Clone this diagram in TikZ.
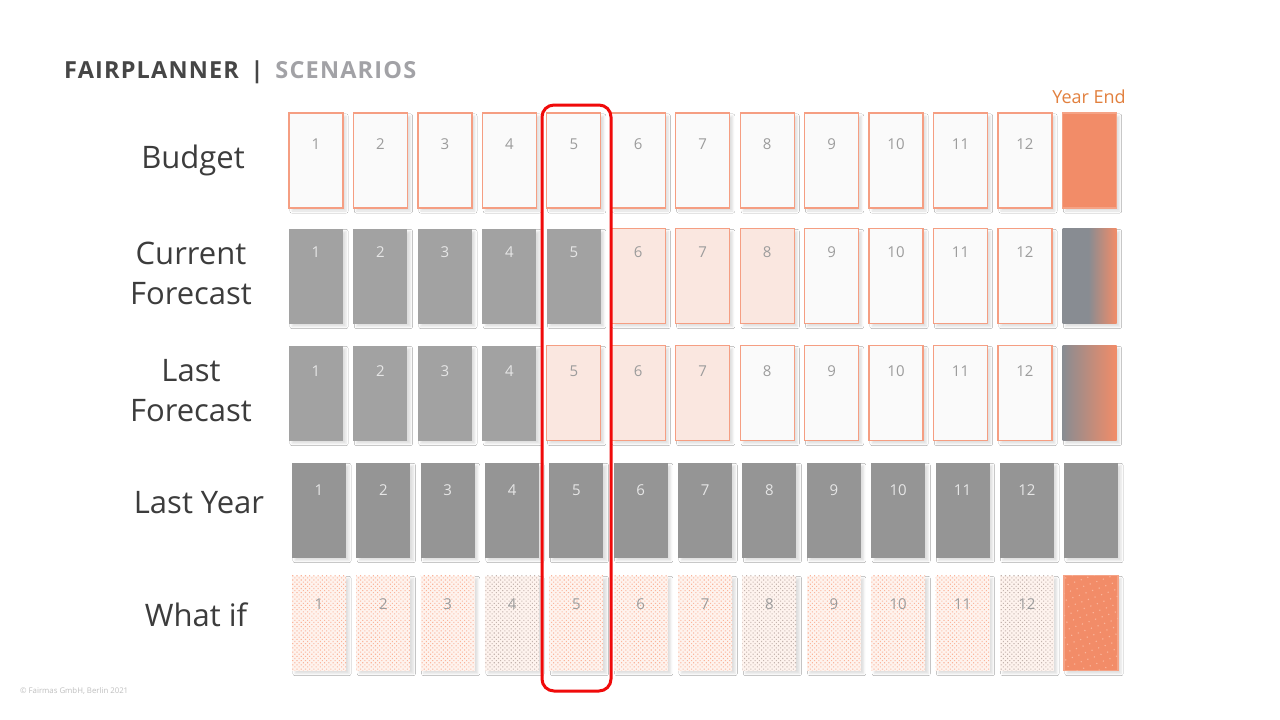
\documentclass[tikz,border=0pt]{standalone}
\usepackage{fontspec}
\setmainfont{Open Sans}
\newfontfamily\titlefont[LetterSpace=5]{Open Sans}
\usetikzlibrary{shadows,shadows.blur,patterns.meta}

\definecolor{fptitle}{HTML}{464646}
\definecolor{fpsub}{HTML}{A2A2A6}
\definecolor{fplabel}{HTML}{3C3C3C}
\definecolor{fpline}{HTML}{F59E82}
\definecolor{fpwhite}{HTML}{FAFAFA}
\definecolor{fppink}{HTML}{FAE7E0}
\definecolor{fpgrey}{HTML}{A2A2A2}
\definecolor{fpdgrey}{HTML}{959595}
\definecolor{fpblue}{HTML}{888C92}
\definecolor{fporange}{HTML}{F28C68}
\definecolor{fpdots}{HTML}{FBB49A}
\definecolor{fpgdots}{HTML}{C4B4AE}
\definecolor{fpwiback}{HTML}{FEF3EE}
\definecolor{fpnum}{HTML}{9C9C9C}
\definecolor{fpnumw}{HTML}{E6E6E6}
\definecolor{fpred}{HTML}{F00A0A}
\definecolor{fpyear}{HTML}{E2803E}

\pgfdeclarehorizontalshading{cfend}{100bp}{color(0bp)=(fpblue); color(25bp)=(fpblue);
  color(49bp)=(fpblue); color(75bp)=(fporange); color(100bp)=(fporange)}
\pgfdeclarehorizontalshading{lfend}{100bp}{color(0bp)=(fpblue); color(25bp)=(fpblue);
  color(55bp)=(fporange!60!fpblue); color(75bp)=(fporange); color(100bp)=(fporange)}

\tikzset{
  month/.style={minimum width=54pt, minimum height=95pt, inner sep=0pt, line width=1.2pt,
    blur shadow={shadow xshift=3pt, shadow yshift=-3pt, shadow opacity=13}},
  plan/.style={month, draw=fpline, fill=fpwhite},
  fcast/.style={month, draw=fpline, fill=fppink},
  actual/.style={month, fill=fpgrey},
  lyear/.style={month, fill=fpdgrey},
  whatif/.style={month, fill=fpwiback, postaction={pattern={Dots[distance=3pt, radius=0.75pt, angle=45]}, pattern color=#1}},
  num/.style={font=\fontsize{15}{15}\selectfont, text=fpnum},
  numw/.style={num, text=fpnumw},
  rowlabel/.style={font=\fontsize{31}{40}\selectfont, text=fplabel, align=center},
}

\begin{document}
\begin{tikzpicture}[x=1pt, y=-1pt]
        \useasboundingbox (0,0) rectangle (1280,720);
        \fill [white] (0,0) rectangle (1280,720);
%        \foreach \x in {0,100,...,1200} \node [font=\small] at (\x,10) {\x};

        \node [right, font=\titlefont\bfseries\fontsize{23.5}{24}\selectfont, inner sep=0pt] (title) at (64,72)
          {\textcolor{fptitle}{FAIRPLANNER\,\,\,|}\,\,\,\textcolor{fpsub}{SCENARIOS}};
        \node [font=\fontsize{18}{18}\selectfont, text=fpyear] (yearend) at (1089,97) {Year End};

        % row labels
        \node [rowlabel] (l-bud) at (193,160) {Budget};
        \node [rowlabel] (l-cf) at (191,273) {Current\\Forecast};
        \node [rowlabel] (l-lf) at (191,391) {Last\\Forecast};
        \node [rowlabel] (l-ly) at (199,503) {Last Year};
        \node [rowlabel] (l-wi) at (196,615) {What if};

        % Budget
        \foreach \i in {1,...,12} {
          \node [plan] (bud-\i) at ({316+(\i-1)*64.45},160.5) {};
          \node [num] (bud-n\i) at ([yshift=-32pt]bud-\i.north) {\i};
        }
        \node [month, fill=fporange, draw=fporange!80!white] (bud-13) at (1089.5,160.5) {};

        % Current Forecast
        \foreach \i in {1,...,5} {
          \node [actual] (cf-\i) at ({316+(\i-1)*64.45},276) {};
          \node [numw] (cf-n\i) at ([yshift=-24pt]cf-\i.north) {\i};
        }
        \foreach \i in {6,7,8} {
          \node [fcast] (cf-\i) at ({316+(\i-1)*64.45},276) {};
          \node [num] (cf-n\i) at ([yshift=-24pt]cf-\i.north) {\i};
        }
        \foreach \i in {9,...,12} {
          \node [plan] (cf-\i) at ({316+(\i-1)*64.45},276) {};
          \node [num] (cf-n\i) at ([yshift=-24pt]cf-\i.north) {\i};
        }
        \node [month, shading=cfend] (cf-13) at (1089.5,276) {};

        % Last Forecast
        \foreach \i in {1,...,4} {
          \node [actual] (lf-\i) at ({316+(\i-1)*64.45},393) {};
          \node [numw] (lf-n\i) at ([yshift=-26pt]lf-\i.north) {\i};
        }
        \foreach \i in {5,6,7} {
          \node [fcast] (lf-\i) at ({316+(\i-1)*64.45},393) {};
          \node [num] (lf-n\i) at ([yshift=-26pt]lf-\i.north) {\i};
        }
        \foreach \i in {8,...,12} {
          \node [plan] (lf-\i) at ({316+(\i-1)*64.45},393) {};
          \node [num] (lf-n\i) at ([yshift=-26pt]lf-\i.north) {\i};
        }
        \node [month, shading=lfend] (lf-13) at (1089.5,393) {};

        % Last Year
        \foreach \i in {1,...,12} {
          \node [lyear] (ly-\i) at ({319+(\i-1)*64.35},510) {};
          \node [numw] (ly-n\i) at ([yshift=-28pt]ly-\i.north) {\i};
        }
        \node [lyear] (ly-13) at (1091,510) {};

        % What if
        \foreach \i/\c in {1/fpdots,2/fpdots,3/fpdots,4/fpgdots,5/fpdots,6/fpdots,
                          7/fpdots,8/fpgdots,9/fpdots,10/fpdots,11/fpdots,12/fpgdots} {
          \node [whatif=\c] (wi-\i) at ({319+(\i-1)*64.35},623) {};
          \node [num] (wi-n\i) at ([yshift=-29pt]wi-\i.north) {\i};
        }
        \node [month, fill=fporange, draw=fporange!80!white,
          postaction={pattern={Dots[distance=7pt, radius=0.8pt, angle=20]}, pattern color=fpdots}] (wi-13) at (1091,623) {};

        % month 5 highlight
        \node [draw=fpred, line width=3pt, rounded corners=12pt, minimum width=69pt, minimum height=586pt] (focus) at (576.5,398) {};

        \node [right, font=\fontsize{7.8}{8}\selectfont, text=black!25, inner sep=0pt] (copy) at (20,691) {© Fairmas GmbH, Berlin 2021};
\end{tikzpicture}
\end{document}
